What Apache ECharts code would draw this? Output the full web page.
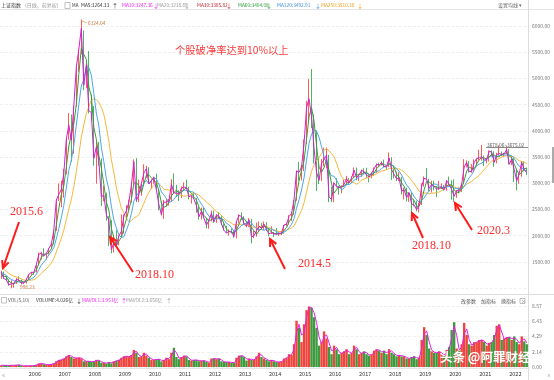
<!DOCTYPE html>
<html><head><meta charset="utf-8">
<script src="https://cdn.jsdelivr.net/npm/echarts@6/dist/echarts.min.js"></script>
<style>html,body{margin:0;padding:0;background:#fff}#c{width:554px;height:380px}</style>
</head><body><div id="c"></div>
<script>
// Monthly candles [open, close, low, high]
const k2005 = [[1190,1306,1177,1329],[1306,1181,1179,1315],[1181,1159,1130,1231],[1159,1060,1043,1163],[1060,1080,998,1147],[1080,1083,1004,1100],[1083,1162,1079,1190],[1162,1155,1135,1223],[1155,1092,1067,1163],[1092,1099,1074,1104],[1099,1161,1085,1180]];
const k2006 = [[1163,1258,1163,1263],[1258,1299,1244,1306],[1299,1298,1250,1304],[1298,1440,1297,1445],[1440,1641,1436,1678],[1641,1672,1542,1691],[1672,1612,1600,1757],[1612,1658,1541,1664],[1658,1752,1641,1760],[1752,1837,1751,1839],[1837,2099,1834,2104],[2099,2675,2090,2698]];
const k2007 = [[2675,2786,2660,2995],[2786,2881,2541,3049],[2881,3183,2723,3275],[3183,3841,3170,3857],[3841,4109,3830,4335],[4109,3821,3404,4311],[3821,4471,3563,4471],[4471,5218,4460,5219],[5218,5552,5127,5552],[5552,5954,5462,6124],[5914,4871,4778,5914],[4871,5262,4812,5303]];
const k2008 = [[5262,4383,4330,5522],[4383,4348,4195,4696],[4348,3473,3333,4473],[3473,3693,2990,3786],[3693,3433,3333,3786],[3433,2736,2566,3474],[2736,2775,2654,2952],[2775,2397,2284,2821],[2370,2293,1802,2370],[2293,1729,1664,2293],[1729,1871,1679,2011],[1871,1821,1814,2100]];
const k2009 = [[1821,1991,1814,2003],[1991,2082,1991,2403],[2082,2373,2037,2403],[2373,2477,2353,2579],[2477,2633,2461,2688],[2633,2959,2630,2998],[2959,3412,2951,3454],[3412,2668,2639,3478],[2668,2779,2639,3068],[2779,2996,2760,3000],[2996,3195,2990,3361],[3195,3277,3098,3330]];
const k2010 = [[3277,2989,2986,3306],[2989,3051,2890,3072],[3051,3110,2986,3128],[3110,2870,2860,3181],[2870,2592,2481,2880],[2592,2398,2382,2650],[2398,2638,2319,2681],[2638,2639,2559,2710],[2639,2656,2573,2698],[2656,2979,2655,3076],[2979,2820,2796,3186],[2820,2808,2738,2969]];
const k2011 = [[2808,2791,2661,2866],[2791,2905,2715,2938],[2905,2928,2861,3014],[2928,2911,2886,3067],[2911,2743,2691,2933],[2743,2762,2610,2774],[2762,2701,2700,2827],[2701,2568,2437,2714],[2568,2359,2307,2570],[2359,2468,2307,2536],[2468,2333,2330,2536],[2333,2199,2134,2339]];
const k2012 = [[2199,2292,2132,2312],[2292,2428,2273,2478],[2428,2262,2242,2478],[2262,2397,2242,2400],[2397,2373,2331,2453],[2373,2225,2204,2388],[2225,2103,2100,2235],[2103,2047,2045,2188],[2047,2086,1999,2118],[2086,2069,2043,2134],[2069,1980,1959,2105],[1980,2269,1949,2276]];
const k2013 = [[2269,2385,2237,2408],[2385,2366,2300,2444],[2366,2237,2206,2370],[2237,2178,2161,2265],[2178,2301,2162,2334],[2301,1979,1849,2320],[1979,1994,1951,2092],[1994,2098,1980,2248],[2098,2175,2085,2270],[2175,2141,2111,2243],[2141,2220,2109,2270],[2220,2116,2086,2260]];
const k2014 = [[2116,2033,1985,2124],[2033,2056,2031,2177],[2056,2033,1974,2071],[2033,2026,2014,2146],[2026,2039,1991,2061],[2039,2048,2010,2087],[2048,2202,2037,2202],[2202,2217,2178,2248],[2217,2364,2210,2391],[2364,2420,2281,2445],[2420,2683,2398,2683],[2683,3235,2664,3239]];
const k2015 = [[3235,3210,3049,3406],[3210,3310,3050,3347],[3310,3748,3230,3835],[3748,4442,3747,4572],[4442,4612,4175,4986],[4612,4277,4050,5178],[4277,3664,3373,4317],[3664,3206,2850,4006],[3206,3053,2983,3357],[3053,3383,3039,3460],[3383,3445,3322,3678],[3445,3539,3284,3684]];
const k2016 = [[3539,2738,2638,3539],[2738,2688,2638,2934],[2688,3004,2637,3019],[3004,2938,2920,3097],[2938,2917,2781,2945],[2917,2930,2807,2958],[2930,2979,2930,3071],[2979,3085,2967,3140],[3085,3005,2970,3100],[3005,3100,3005,3127],[3100,3250,3100,3301],[3250,3104,3056,3301]];
const k2017 = [[3104,3159,3044,3174],[3159,3242,3122,3260],[3242,3223,3170,3284],[3223,3155,3103,3296],[3155,3117,3016,3157],[3117,3192,3092,3205],[3192,3273,3136,3301],[3273,3361,3201,3375],[3361,3349,3318,3392],[3349,3393,3339,3419],[3393,3317,3305,3450],[3317,3307,3254,3318]];
const k2018 = [[3307,3481,3307,3587],[3481,3259,3062,3495],[3259,3169,3091,3333],[3169,3082,3041,3220],[3082,3095,3039,3219],[3095,2847,2782,3121],[2847,2876,2691,2916],[2876,2725,2653,2915],[2725,2821,2644,2827],[2821,2603,2449,2826],[2603,2588,2560,2703],[2588,2494,2463,2667]];
const k2019 = [[2494,2585,2441,2630],[2585,2941,2584,2997],[2941,3091,2935,3130],[3091,3078,3070,3288],[3078,2899,2838,3083],[2899,2979,2822,3049],[2979,2933,2862,3049],[2933,2886,2733,2940],[2886,2905,2870,3047],[2905,2929,2890,2996],[2929,2872,2857,2970],[2872,3050,2857,3060]];
const k2020 = [[3050,2977,2968,3127],[2977,2880,2685,3058],[2880,2750,2646,3074],[2750,2860,2719,2866],[2860,2852,2804,2915],[2852,2985,2830,2992],[2985,3310,2985,3458],[3310,3396,3300,3437],[3396,3218,3202,3425],[3218,3225,3200,3365],[3225,3392,3209,3457],[3392,3473,3325,3474]];
const k2021 = [[3473,3483,3440,3637],[3483,3509,3433,3731],[3509,3442,3328,3530],[3442,3447,3377,3474],[3447,3615,3415,3624],[3615,3591,3519,3626],[3591,3397,3312,3609],[3397,3544,3380,3581],[3544,3568,3530,3723],[3568,3547,3515,3604],[3547,3564,3494,3580],[3564,3640,3560,3708]];
const k2022 = [[3640,3361,3357,3651],[3361,3462,3344,3512],[3462,3252,3023,3478],[3252,3047,2863,3274],[3047,3186,2989,3195],[3186,3399,3124,3424],[3399,3253,3226,3418],[3253,3202,3155,3296]];
// closes of the 12 months before the first candle (Feb 2004 - Jan 2005), for moving-average warm-up
const warmupCloses = [1675,1742,1595,1555,1399,1386,1342,1396,1320,1340,1266,1191];
// volume (axis units), one per month
const volumes = [
 0.25,0.22,0.25,0.15,0.3,0.2,0.3,0.3,0.15,0.15,0.2,
 0.15,0.2,0.2,0.3,0.5,0.5,0.4,0.3,0.35,0.4,0.5,0.8,
 1.0,1.0,1.2,1.5,1.7,1.4,1.2,1.3,1.3,1.2,0.8,0.8,
 0.8,0.7,0.8,1.0,0.9,0.6,0.6,0.5,0.7,0.5,0.8,0.9,
 1.0,1.3,1.5,1.5,1.4,1.7,2.4,2.0,1.4,1.5,2.0,1.6,
 1.3,1.0,1.0,1.1,1.1,0.8,1.0,1.3,1.1,2.0,2.7,1.4,
 1.1,1.4,1.6,1.5,1.0,0.9,1.0,1.0,0.8,0.9,0.9,0.7,
 0.6,1.2,1.2,1.1,1.2,0.8,0.7,0.7,0.7,0.6,0.6,1.3,
 1.6,1.6,1.4,0.9,1.2,1.0,1.0,1.5,2.0,1.4,1.2,1.0,
 0.8,1.0,0.8,0.7,0.7,0.8,1.2,1.3,1.8,1.7,3.2,6.5,
 5.5,3.5,6.0,8.0,8.5,8.3,7.0,5.5,3.0,3.5,5.0,4.0,
 2.8,1.8,3.0,2.5,1.8,2.0,2.2,2.5,1.8,2.0,3.0,2.5,
 1.8,2.0,2.2,1.8,1.6,1.8,2.3,2.5,2.3,2.0,2.3,1.8,
 2.5,2.0,1.8,1.5,1.7,1.5,1.5,1.2,1.2,1.4,1.5,1.1,
 1.3,3.8,5.6,4.5,2.6,2.2,2.0,2.0,2.2,1.8,1.6,2.4,
 2.8,5.2,6.3,2.6,2.3,3.2,6.2,4.5,3.2,3.0,3.5,3.5,
 3.8,3.8,3.5,3.0,3.4,3.5,4.5,5.8,6.0,3.8,4.0,4.2,
 4.2,3.8,4.3,3.5,3.2,4.3,3.6,3.2];
const priceTicks = [1500,2000,2500,3000,3500,4000,4500,5000,5500,6000];

const candles = [].concat(k2005,k2006,k2007,k2008,k2009,k2010,k2011,k2012,k2013,k2014,k2015,k2016,k2017,k2018,k2019,k2020,k2021,k2022);
const months = [];
for (let y = 2005, m = 2; months.length < candles.length; ) {
  months.push(y + '-' + String(m).padStart(2,'0'));
  m++; if (m > 12) { m = 1; y++; }
}
const closes = candles.map(c => c[1]);
const allCloses = warmupCloses.concat(closes);
function ma(n) {
  return closes.map((_, i) => {
    const j = i + warmupCloses.length;
    let s = 0; for (let k = j - n + 1; k <= j; k++) s += allCloses[k];
    return +(s / n).toFixed(2);
  });
}
function maVol(n) {
  return volumes.map((_, i) => {
    if (i < n - 1) return volumes[i];
    let s = 0; for (let k = i - n + 1; k <= i; k++) s += volumes[k];
    return +(s / n).toFixed(3);
  });
}
const UP = '#ff2e2e', DOWN = '#22a03a';
const F = '"Noto Sans CJK SC","Noto Sans",sans-serif';

const chart = echarts.init(document.getElementById('c'), null, {renderer: 'canvas'});

function txt(x, y, s, color, size, extra) {
  return Object.assign({type: 'text', silent: true, z: 100, style: Object.assign({
    text: s, x: x, y: y, fill: color, font: (size || 5) + 'px ' + F, textVerticalAlign: 'middle'
  }, extra || {})});
}
function hline(y, x1, x2, color) {
  return {type: 'line', silent: true, z: 90, shape: {x1: x1, y1: y, x2: x2, y2: y}, style: {stroke: color || '#e2e2e2', lineWidth: 1}};
}
function arrow(x1, y1, x2, y2) {
  const a = Math.atan2(y2 - y1, x2 - x1), L = 8, s = 0.45;
  return [
    {type: 'line', silent: true, z: 110, shape: {x1: x1, y1: y1, x2: x2, y2: y2}, style: {stroke: '#ff1a1a', lineWidth: 2}},
    {type: 'polyline', silent: true, z: 110, shape: {points: [
      [x2 - L * Math.cos(a - s), y2 - L * Math.sin(a - s)], [x2, y2],
      [x2 - L * Math.cos(a + s), y2 - L * Math.sin(a + s)]]},
     style: {stroke: '#ff1a1a', lineWidth: 2, fill: null}}
  ];
}
const SERIF = '12px "Liberation Serif","DejaVu Serif",serif';
function note(x, y, s) {
  return {type: 'text', silent: true, z: 110, style: {text: s, x: x, y: y, fill: '#ff2a2a', font: SERIF, textVerticalAlign: 'middle'}};
}

const graphics = [
  hline(9.5, 0, 554, '#e6e6e6'),
  hline(294.5, 0, 554, '#dcdcdc'),
  hline(368.5, 0, 528, '#e6e6e6'),
  {type: 'line', silent: true, z: 90, shape: {x1: 528.5, y1: 0, x2: 528.5, y2: 380}, style: {stroke: '#dcdcdc', lineWidth: 1}},
  {type: 'rect', silent: true, z: 90, shape: {x: 552, y: 147, width: 2, height: 36}, style: {fill: '#aaa'}},
  // header
  txt(1, 5.5, '上证指数', '#333', 5),
  txt(25, 5.5, '(日线，前复权)', '#999', 5),
  {type: 'rect', silent: true, z: 100, shape: {x: 65, y: 2.5, width: 5, height: 6}, style: {fill: null, stroke: '#999', lineWidth: 0.6}},
  txt(72, 5.5, 'MA', '#333', 4.5),
  txt(81, 5.5, 'MA5:3264.33', '#333', 4.8), txt(112, 5.5, '↑', '#333', 6),
  txt(122, 5.5, 'MA10:3247.36', '#ee22ee', 4.8), txt(153, 5.5, '↓', '#ee22ee', 6),
  txt(157, 5.5, 'MA20:3238.69', '#999', 4.8), txt(184, 5.5, '↓', '#999', 6),
  txt(197, 5.5, 'MA30:3305.82', '#c0272d', 4.8), txt(226, 5.5, '↓', '#c0272d', 6),
  txt(238, 5.5, 'MA60:3404.08', '#2e9e3e', 4.8), txt(266, 5.5, '↓', '#2e9e3e', 6),
  txt(277, 5.5, 'MA120:3492.91', '#3b8fd9', 4.8), txt(315, 5.5, '↓', '#3b8fd9', 6),
  txt(321, 5.5, 'MA250:3510.38', '#f0a020', 4.8), txt(357, 5.5, '↓', '#f0a020', 6),
  txt(498, 5.5, '设置均线 ▾', '#666', 5),
  // volume header
  {type: 'rect', silent: true, z: 100, shape: {x: 1.5, y: 297.5, width: 5, height: 5.5}, style: {fill: null, stroke: '#999', lineWidth: 0.6}},
  txt(8, 300.5, 'VOL(5,10)', '#555', 4.8),
  txt(36, 300.5, 'VOLUME:4.026亿', '#333', 4.8), txt(76, 300.5, '↓', '#333', 6),
  txt(82, 300.5, 'MAVOL1:3.951亿', '#ee22ee', 4.8), txt(121, 300.5, '↑', '#ee22ee', 6),
  txt(126, 300.5, 'MAVOL2:3.656亿', '#999', 4.8), txt(166, 300.5, '↑', '#999', 6),
  txt(461, 301, '改参数', '#555', 5), txt(481, 301, '加指标', '#555', 5), txt(501, 301, '换指标', '#555', 5),
  {type: 'rect', silent: true, z: 100, shape: {x: 520, y: 298.5, width: 5, height: 5}, style: {fill: null, stroke: '#999', lineWidth: 0.6}},
  txt(521, 301, '×', '#777', 5),
  txt(2, 374, '«', '#aaa', 7), txt(547, 374, '»', '#aaa', 7),
  // price labels
  {type: 'line', silent: true, z: 100, shape: {x1: 82, y1: 21, x2: 87, y2: 23}, style: {stroke: '#d08040', lineWidth: 0.6}},
  txt(88, 23.5, '6124.04', '#c8703a', 4.8),
  txt(20, 287, '998.23', '#c8703a', 4.8),
  txt(487, 145, '3678.06~3675.02', '#555', 4.8),
  hline(147.5, 486, 528, '#888'),
  // title and notes
  {type: 'text', silent: true, z: 110, style: {text: '个股破净率达到10%以上', x: 175, y: 50, fill: '#ff3a3a', font: '10.3px ' + F, textVerticalAlign: 'middle'}},
  note(10, 212, '2015.6'),
  note(135, 275, '2018.10'),
  note(298, 264, '2014.5'),
  note(412, 246, '2018.10'),
  note(477, 231, '2020.3'),
  ...arrow(19, 222, 3, 268),
  ...arrow(133, 272, 110, 237),
  ...arrow(285, 269, 270, 239),
  ...arrow(423, 238, 412, 213),
  ...arrow(472, 230, 455, 203),
  // watermark
  {type: 'text', silent: true, z: 120, style: {text: '头条 @阿罪财经', x: 440, y: 357, fill: '#fff', font: 'bold 12.5px ' + F, textVerticalAlign: 'middle', shadowColor: 'rgba(0,0,0,0.9)', shadowBlur: 3, shadowOffsetX: 0.5, shadowOffsetY: 0.5}}
];

const option = {
  animation: false,
  backgroundColor: '#fff',
  grid: [
    {left: 0, right: 26, top: 26, bottom: 92},
    {left: 0, right: 26, top: 306, bottom: 13}
  ],
  xAxis: [
    {type: 'category', gridIndex: 0, data: months, boundaryGap: true,
     axisLine: {show: false}, axisTick: {show: false}, axisLabel: {show: false}, splitLine: {show: false}},
    {type: 'category', gridIndex: 1, data: months, boundaryGap: true,
     axisLine: {show: false}, axisTick: {show: false}, splitLine: {show: false},
     axisLabel: {interval: (i, v) => v.endsWith('-01'), formatter: v => v.slice(0, 4), align: 'left',
       fontSize: 5.5, color: '#333', margin: 4, fontFamily: F}}
  ],
  yAxis: [
    {type: 'value', gridIndex: 0, position: 'right', min: 1000, max: 6000, interval: 500,
     axisLine: {show: false}, axisTick: {show: false},
     axisLabel: {margin: 4, fontSize: 5, color: '#777', fontFamily: F,
       formatter: v => priceTicks.indexOf(v) >= 0 ? v.toFixed(2) : ''},
     splitLine: {lineStyle: {color: '#ececec', type: 'dashed', width: 0.8}}},
    {type: 'value', gridIndex: 1, position: 'right', min: 0, max: 8.57, interval: 8.57 / 4,
     axisLine: {show: false}, axisTick: {show: false},
     axisLabel: {margin: 4, fontSize: 5, color: '#777', fontFamily: F, formatter: v => v.toFixed(2)},
     splitLine: {lineStyle: {color: '#ececec', type: 'dashed', width: 0.8}}}
  ],
  series: [
    {type: 'candlestick', xAxisIndex: 0, yAxisIndex: 0, data: candles, clip: false, barMaxWidth: 2,
     itemStyle: {color: UP, color0: DOWN, borderColor: UP, borderColor0: DOWN, borderWidth: 0.8}},
    {type: 'line', data: ma(12), symbol: 'none', clip: false, lineStyle: {color: '#f5b83a', width: 1}, z: 3},
    {type: 'line', data: ma(6), symbol: 'none', clip: false, lineStyle: {color: '#4aa6ea', width: 1}, z: 3},
    {type: 'line', data: ma(3), symbol: 'none', clip: false, lineStyle: {color: '#3c9a3c', width: 1}, z: 3},
    {type: 'line', data: closes, symbol: 'none', clip: false, lineStyle: {color: '#d21fd2', width: 1}, z: 4},
    {type: 'bar', xAxisIndex: 1, yAxisIndex: 1, data: volumes.map((v, i) => ({
       value: v, itemStyle: {color: candles[i][1] >= candles[i][0] ? '#f0453f' : '#3e9a3e'}})),
     barCategoryGap: '5%'},
    {type: 'line', xAxisIndex: 1, yAxisIndex: 1, data: maVol(2), symbol: 'none', lineStyle: {color: '#e020e0', width: 1}, z: 4}
  ],
  graphic: graphics
};
chart.setOption(option);
</script>
</body></html>
